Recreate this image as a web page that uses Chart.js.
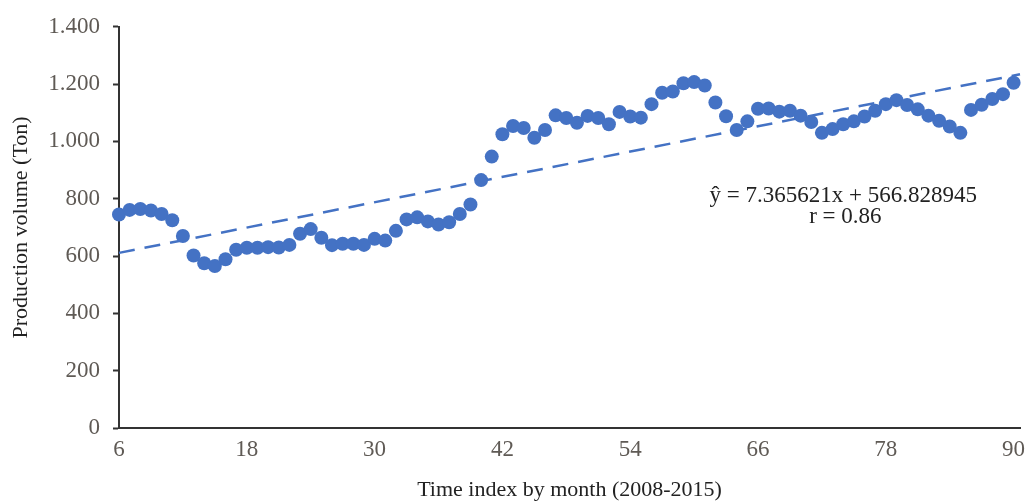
<!DOCTYPE html>
<html>
<head>
<meta charset="utf-8">
<script src="https://cdn.jsdelivr.net/npm/chart.js@4/dist/chart.umd.min.js"></script>
<style>
  body { margin: 0; background: #fff; }
  #wrap { width: 1027px; height: 501px; }
</style>
</head>
<body>
<div id="wrap"><canvas id="chart"></canvas></div>
<script>
// month index (x) and production volume in tons (y)
const months = [6, 7, 8, 9, 10, 11, 12, 13, 14, 15, 16, 17, 18, 19, 20, 21, 22, 23, 24, 25,
    26, 27, 28, 29, 30, 31, 32, 33, 34, 35, 36, 37, 38, 39, 40, 41, 42, 43, 44, 45,
    46, 47, 48, 49, 50, 51, 52, 53, 54, 55, 56, 57, 58, 59, 60, 61, 62, 63, 64, 65,
    66, 67, 68, 69, 70, 71, 72, 73, 74, 75, 76, 77, 78, 79, 80, 81, 82, 83, 84, 85,
    86, 87, 88, 89, 90];
const volume = [745, 761, 764, 759, 747, 725, 670, 602, 575, 565, 589, 622, 629, 629, 631, 630, 639, 678, 694, 664,
    638, 643, 643, 639, 660, 654, 688, 728, 735, 721, 710, 718, 747, 780, 865, 947, 1025, 1054, 1047, 1013,
    1040, 1091, 1082, 1065, 1089, 1082, 1060, 1103, 1087, 1083, 1130, 1170, 1174, 1203, 1207, 1195, 1136, 1088, 1040, 1070,
    1114, 1115, 1104, 1107, 1090, 1068, 1030, 1043, 1060, 1070, 1087, 1107, 1130, 1144, 1127, 1112, 1090, 1072, 1052, 1030,
    1110, 1128, 1148, 1165, 1205];

// regression shown on the figure
const slope = 7.365621;
const intercept = 566.828945;
const trendX = [6, 90.6];
const eqLines = ['\u0177 = 7.365621x + 566.828945', 'r = 0.86'];

const xTicks = [6, 18, 30, 42, 54, 66, 78, 90];
const yTicks = [0, 200, 400, 600, 800, 1000, 1200, 1400];

const blue = 'rgb(68, 114, 196)';
const serif = 'Liberation Serif';

const points = months.map((m, i) => ({ x: m, y: volume[i] }));
const trend = trendX.map(x => ({ x: x, y: slope * x + intercept }));

// writes the equation and r under the trend line
const equationText = {
    id: 'equationText',
    afterDatasetsDraw(chart) {
        const ctx = chart.ctx;
        const xs = chart.scales.x, ys = chart.scales.y;
        ctx.save();
        ctx.font = '23px "' + serif + '"';
        ctx.fillStyle = '#222';
        ctx.textAlign = 'center';
        ctx.textBaseline = 'middle';
        ctx.fillText(eqLines[0], xs.getPixelForValue(74), ys.getPixelForValue(808));
        ctx.fillText(eqLines[1], xs.getPixelForValue(74.2), ys.getPixelForValue(738));
        ctx.restore();
    }
};

const chart = new Chart(document.getElementById('chart'), {
    type: 'scatter',
    data: {
        datasets: [{
            label: 'Production volume',
            data: points,
            backgroundColor: blue,
            borderWidth: 0,
            pointRadius: 7,
            pointHoverRadius: 7,
            clip: false,
        }, {
            label: 'Trend',
            data: trend,
            showLine: true,
            borderColor: blue,
            borderWidth: 2.5,
            borderDash: [16, 10],
            pointRadius: 0,
            fill: false,
            clip: false,
        }],
    },
    options: {
        responsive: true,
        maintainAspectRatio: false,
        animation: false,
        events: [],
        layout: { padding: { top: 22, right: 7, left: 0, bottom: 0 } },
        plugins: {
            legend: { display: false },
            tooltip: { enabled: false },
        },
        scales: {
            x: {
                type: 'linear',
                min: 6,
                max: 90.6,
                afterFit: s => { s.height = 73; s.paddingLeft = 0; s.paddingRight = 0; },
                afterBuildTicks: s => { s.ticks = xTicks.map(v => ({ value: v })); },
                grid: { display: false, drawTicks: false },
                border: { display: true, color: '#333', width: 2 },
                ticks: {
                    padding: 8,
                    color: '#5f5a55',
                    font: { family: serif, size: 23 },
                    maxRotation: 0,
                    autoSkip: false,
                },
                title: {
                    display: true,
                    text: 'Time index by month (2008-2015)',
                    color: '#222',
                    font: { family: serif, size: 22, lineHeight: 1 },
                    padding: { top: 0, bottom: 0 },
                },
            },
            y: {
                min: 0,
                max: 1400,
                afterFit: s => { s.width = 119; },
                afterBuildTicks: s => { s.ticks = yTicks.map(v => ({ value: v })); },
                grid: {
                    display: true,
                    drawOnChartArea: false,
                    drawTicks: true,
                    tickLength: 6,
                    tickColor: '#333',
                    tickWidth: 2,
                },
                border: { display: true, color: '#333', width: 2 },
                ticks: {
                    padding: 13,
                    color: '#5f5a55',
                    font: { family: serif, size: 23 },
                    callback: v => v.toLocaleString('de-DE'),
                },
                title: {
                    display: true,
                    text: 'Production volume (Ton)',
                    color: '#222',
                    font: { family: serif, size: 22, lineHeight: 1 },
                    padding: { top: 10, bottom: 0 },
                },
            },
        },
    },
    plugins: [equationText],
});
</script>
</body>
</html>
